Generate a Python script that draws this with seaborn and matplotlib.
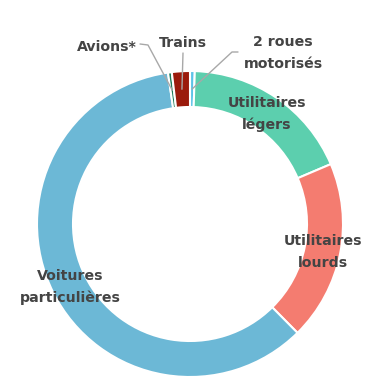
import numpy as np
import matplotlib
matplotlib.use("Agg")
import matplotlib.pyplot as plt
import seaborn as sns

categories = ["2 roues\nmotorisés", "Utilitaires\nlégers", "Utilitaires\nlourds",
              "Voitures\nparticulières", "Avions*", "Trains"]
values = [0.5, 18.1, 19.0, 60.1, 0.4, 1.9]
colors = ["#5cc3e8", "#5ccfae", "#f47c70", "#6cb8d6", "#1e7b58", "#9b1b0c"]

sns.set_theme(style="white")
plt.rcParams['font.family'] = ['Liberation Sans Narrow', 'DejaVu Sans']

W, H = 375, 377
fig = plt.figure(figsize=(W / 100, H / 100), dpi=100)
ax = fig.add_axes([0, 0, 1, 1])

cx, cy, R, width = 190, H - 224, 153, 36
wedges, _ = ax.pie(values, colors=colors, startangle=90, counterclock=False,
                   center=(cx, cy), radius=R,
                   wedgeprops=dict(width=width, edgecolor="white", linewidth=1.5))
ax.set_xlim(0, W)
ax.set_ylim(0, H)
ax.set_aspect("equal")
ax.axis("off")

txt = dict(fontsize=10.2, fontweight="bold", color="#444444", ha="center", va="center",
           linespacing=1.65)
ax.text(70, H - 287, categories[3], **txt)
ax.text(323, H - 252, categories[2], **txt)
ax.text(267, H - 114, categories[1], **txt)
ax.text(283, H - 53, categories[0], **txt)
ax.text(183, H - 43, categories[5], **txt)
ax.text(107, H - 47, categories[4], **txt)


def ring_point(w, rfrac):
    ang = np.deg2rad((w.theta1 + w.theta2) / 2)
    r = R - width * rfrac
    return cx + r * np.cos(ang), cy + r * np.sin(ang)


lc = dict(color="#a8a8a8", lw=1.0)
px, py = ring_point(wedges[5], 0.5)
ax.plot([183, px], [H - 53, py], **lc)
px, py = ring_point(wedges[4], 0.5)
ax.plot([140, 148, px], [H - 44, H - 45, py], **lc)
px, py = ring_point(wedges[0], 0.5)
ax.plot([238, 232, px], [H - 52, H - 52, py], **lc)

fig.savefig("out.png", dpi=100)
